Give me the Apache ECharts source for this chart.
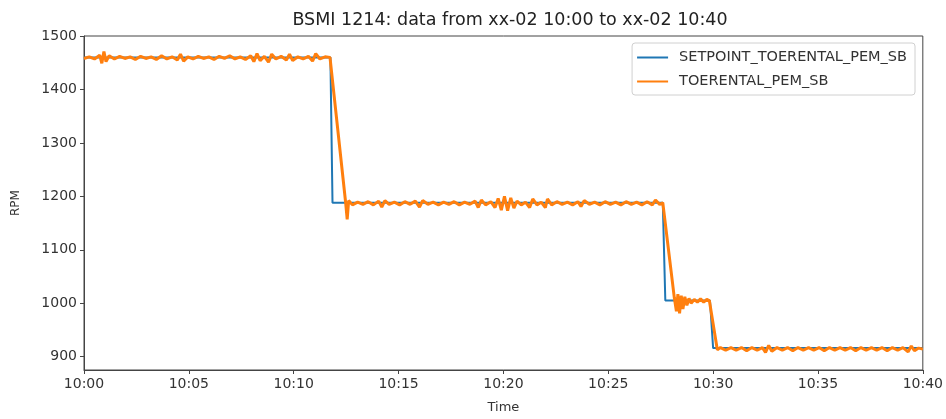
<!DOCTYPE html>
<html>
<head>
<meta charset="utf-8">
<script src="https://cdn.jsdelivr.net/npm/echarts@6/dist/echarts.min.js"></script>
<style>
  html, body { margin: 0; padding: 0; background: #fff; }
  #chart { width: 946px; height: 419px; }
</style>
</head>
<body>
<div id="chart"></div>
<script>
// minutes after 10:00, RPM
var setpointData = [
    [0, 1460], [11.75, 1460], [11.85, 1188], [27.6, 1188], [27.72, 1005],
    [29.85, 1005], [30.0, 916], [40, 916]
];

var measuredData = [
    [0, 1458], [0.25, 1461], [0.5, 1457], [0.75, 1464], [0.85, 1449], [0.95, 1471], [1.05, 1452],
    [1.2, 1463], [1.45, 1457], [1.7, 1462], [1.95, 1458], [2.2, 1461], [2.45, 1456], [2.7, 1462],
    [2.95, 1458], [3.2, 1461], [3.45, 1456], [3.7, 1463], [3.95, 1457], [4.2, 1461], [4.45, 1455],
    [4.6, 1466], [4.75, 1453], [4.95, 1461], [5.2, 1457], [5.45, 1462], [5.7, 1458], [5.95, 1461],
    [6.2, 1456], [6.45, 1462], [6.7, 1458], [6.95, 1463], [7.2, 1457], [7.45, 1461], [7.7, 1456],
    [7.95, 1463], [8.1, 1452], [8.25, 1467], [8.4, 1454], [8.6, 1462], [8.8, 1451], [8.95, 1466],
    [9.15, 1457], [9.4, 1462], [9.65, 1455], [9.8, 1466], [9.95, 1454], [10.2, 1461], [10.45, 1457],
    [10.7, 1462], [10.9, 1453], [11.05, 1467], [11.25, 1457], [11.5, 1461], [11.73, 1460],
    [12.48, 1187], [12.55, 1157], [12.62, 1192], [12.8, 1184], [13.05, 1189], [13.3, 1185],
    [13.55, 1190], [13.8, 1184], [14.05, 1191], [14.2, 1180], [14.35, 1192], [14.55, 1185],
    [14.8, 1189], [15.05, 1184], [15.3, 1190], [15.55, 1185], [15.8, 1191], [16.0, 1180],
    [16.15, 1192], [16.4, 1185], [16.65, 1189], [16.9, 1184], [17.15, 1189], [17.4, 1185],
    [17.65, 1190], [17.9, 1184], [18.15, 1189], [18.4, 1185], [18.65, 1191], [18.8, 1179],
    [18.95, 1193], [19.15, 1184], [19.4, 1190], [19.6, 1179], [19.75, 1196], [19.9, 1174],
    [20.05, 1200], [20.2, 1173], [20.35, 1197], [20.5, 1178], [20.65, 1191], [20.85, 1184],
    [21.05, 1189], [21.25, 1179], [21.4, 1195], [21.6, 1184], [21.8, 1189], [22.0, 1179],
    [22.1, 1195], [22.3, 1184], [22.55, 1190], [22.8, 1185], [23.05, 1189], [23.3, 1184],
    [23.55, 1190], [23.7, 1181], [23.85, 1192], [24.1, 1185], [24.35, 1189], [24.6, 1184],
    [24.85, 1190], [25.1, 1185], [25.35, 1189], [25.6, 1184], [25.85, 1190], [26.1, 1185],
    [26.35, 1189], [26.6, 1184], [26.85, 1190], [27.1, 1184], [27.25, 1193], [27.45, 1185],
    [27.6, 1188], [28.15, 1010], [28.25, 985], [28.32, 1017], [28.4, 981], [28.48, 1014],
    [28.56, 989], [28.65, 1012], [28.75, 996], [28.85, 1009], [28.95, 1000], [29.1, 1007],
    [29.25, 1002], [29.4, 1008], [29.55, 1002], [29.7, 1007], [29.82, 1005], [30.2, 913],
    [30.35, 917], [30.6, 912], [30.85, 917], [31.1, 912], [31.35, 917], [31.6, 911], [31.85, 917],
    [32.1, 912], [32.35, 917], [32.5, 908], [32.65, 921], [32.8, 910], [33.05, 917], [33.3, 912],
    [33.55, 917], [33.8, 911], [34.05, 917], [34.3, 912], [34.55, 917], [34.8, 912], [35.05, 917],
    [35.3, 911], [35.55, 917], [35.8, 912], [36.05, 917], [36.3, 912], [36.55, 917], [36.8, 911],
    [37.05, 917], [37.3, 912], [37.55, 917], [37.8, 912], [38.05, 917], [38.3, 911], [38.55, 917],
    [38.8, 912], [39.05, 917], [39.3, 909], [39.45, 920], [39.6, 911], [39.8, 916], [40, 914]
];

var seriesNames = ['SETPOINT_TOERENTAL_PEM_SB', 'TOERENTAL_PEM_SB'];
var yTicks = [900, 1000, 1100, 1200, 1300, 1400, 1500];

var myChart = echarts.init(document.getElementById('chart'));

var option = {
    animation: false,
    backgroundColor: '#fff',
    textStyle: { fontFamily: 'DejaVu Sans' },
    color: ['#1f77b4', '#ff7f0e'],
    title: {
        text: 'BSMI 1214: data from xx-02 10:00 to xx-02 10:40',
        left: 505,
        textAlign: 'center',
        top: 6,
        textStyle: { fontSize: 17.5, fontWeight: 'normal', color: '#222' }
    },
    legend: {
        orient: 'vertical',
        right: 31,
        top: 43,
        icon: 'rect',
        itemWidth: 31,
        itemHeight: 2,
        itemGap: 9,
        padding: [7, 8, 6, 5],
        borderColor: '#d0d0d0',
        borderWidth: 1,
        borderRadius: 3,
        textStyle: { fontSize: 14.5, color: '#333', padding: [0, 0, 0, 6] },
        data: seriesNames
    },
    grid: {
        left: 84,
        right: 20,
        top: 36,
        bottom: 48,
        show: true,
        borderColor: '#444',
        borderWidth: 1
    },
    xAxis: {
        type: 'value',
        min: 0,
        max: 40,
        interval: 5,
        name: 'Time',
        nameLocation: 'middle',
        nameGap: 31,
        nameTextStyle: { fontSize: 13, color: '#333' },
        axisLine: { lineStyle: { color: '#444' } },
        axisTick: { length: 4, lineStyle: { color: '#444' } },
        splitLine: { show: false },
        axisLabel: {
            fontSize: 14,
            color: '#333',
            margin: 7,
            formatter: function (v) {
                var m = Math.round(v);
                return '10:' + (m < 10 ? '0' + m : m);
            }
        }
    },
    yAxis: {
        type: 'value',
        min: 875,
        max: 1500,
        name: 'RPM',
        nameLocation: 'middle',
        nameGap: 62,
        nameTextStyle: { fontSize: 12, color: '#333' },
        axisLine: { show: true, lineStyle: { color: '#444' } },
        axisTick: { show: true, length: 4, customValues: yTicks, lineStyle: { color: '#444' } },
        splitLine: { show: false },
        axisLabel: {
            fontSize: 14,
            color: '#333',
            margin: 7,
            customValues: yTicks,
            formatter: function (v) { return String(v); }
        }
    },
    series: [
        {
            name: seriesNames[0],
            type: 'line',
            data: setpointData,
            showSymbol: false,
            lineStyle: { width: 2 },
            z: 2
        },
        {
            name: seriesNames[1],
            type: 'line',
            data: measuredData,
            showSymbol: false,
            lineStyle: { width: 3 },
            z: 3
        }
    ]
};

myChart.setOption(option);
</script>
</body>
</html>
